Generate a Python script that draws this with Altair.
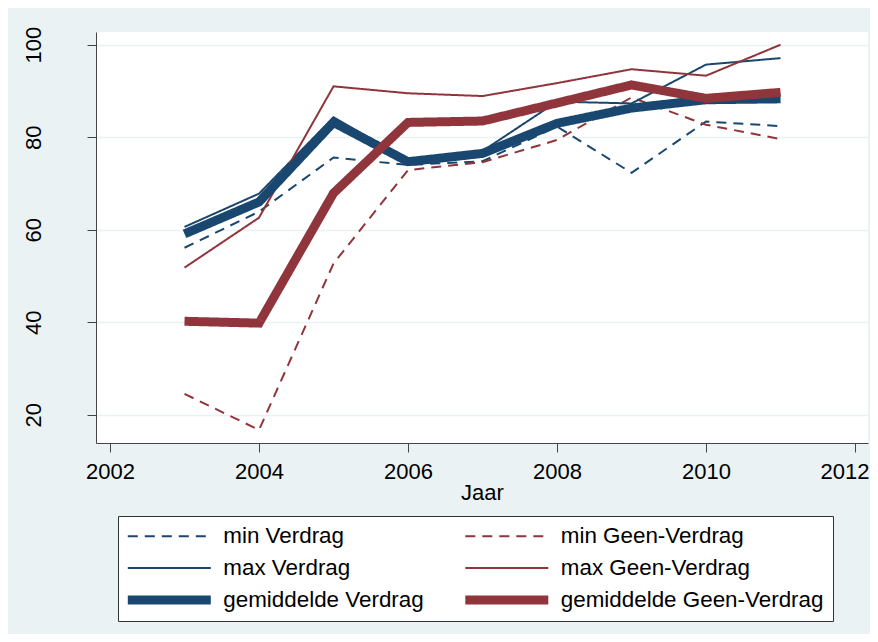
import altair as alt
import pandas as pd

years = [2003, 2004, 2005, 2006, 2007, 2008, 2009, 2010, 2011]
min_verdrag = [56.1, 63.9, 75.6, 74.0, 74.8, 82.3, 72.3, 83.4, 82.4]
min_geen = [24.5, 16.7, 52.7, 72.9, 74.6, 79.4, 88.6, 82.7, 79.6]
max_verdrag = [60.6, 67.8, 84.3, 75.0, 77.0, 87.7, 87.3, 95.7, 97.1]
max_geen = [51.8, 62.6, 91.0, 89.5, 88.9, 91.7, 94.7, 93.3, 100.0]
gem_verdrag = [59.1, 66.0, 83.2, 74.7, 76.5, 83.0, 86.3, 88.1, 88.3]
gem_geen = [40.2, 39.8, 67.9, 83.2, 83.5, 87.4, 91.3, 88.4, 89.7]

series_names = ["min Verdrag", "min Geen-Verdrag", "max Verdrag",
                "max Geen-Verdrag", "gemiddelde Verdrag", "gemiddelde Geen-Verdrag"]
series_values = [min_verdrag, min_geen, max_verdrag, max_geen, gem_verdrag, gem_geen]

x_ticks = [2002, 2004, 2006, 2008, 2010, 2012]
y_ticks = [20, 40, 60, 80, 100]

NAVY = "#1a476f"
MAROON = "#90353b"
BG = "#eaf2f3"
FONT = "Liberation Sans"

rows = []
for name, vals in zip(series_names, series_values):
    for yr, v in zip(years, vals):
        rows.append({"Jaar": yr, "waarde": v, "serie": name})
df = pd.DataFrame(rows)

color_range = [NAVY, MAROON, NAVY, MAROON, NAVY, MAROON]
dash_range = [[10, 7], [10, 7], [1, 0], [1, 0], [1, 0], [1, 0]]
width_range = [2, 2, 2, 2, 9, 9]

legend = alt.Legend(
    title=None, orient="none", legendX=22, legendY=484, columns=2,
    direction="horizontal",
    symbolType="stroke", symbolSize=6889, clipHeight=22,
    rowPadding=9, columnPadding=40.5, padding=9,
    labelFontSize=22.4, labelFont=FONT, labelColor="black", labelOffset=8,
    symbolOffset=-3.7, labelLimit=500,
    fillColor="white", strokeColor="#333333",
)

chart = alt.Chart(df).mark_line().encode(
    x=alt.X("Jaar:Q",
            scale=alt.Scale(domain=[2001.812, 2012.174], nice=False, zero=False),
            axis=alt.Axis(values=x_ticks, format="d", title="Jaar", grid=False,
                          tickSize=9, tickColor="#444444", domainColor="#444444",
                          labelFontSize=22, labelFont=FONT, labelColor="black",
                          labelBaseline="alphabetic", labelPadding=26,
                          labelFlush=13.5, labelFlushOffset=14,
                          titleFontSize=22, titleFont=FONT, titleFontWeight="normal",
                          titleColor="black", titleX=386, titleY=56,
                          titleBaseline="alphabetic", titleAlign="center")),
    y=alt.Y("waarde:Q",
            scale=alt.Scale(domain=[13.88, 102.75], nice=False, zero=False),
            axis=alt.Axis(values=y_ticks, title=None, grid=True, gridColor=BG,
                          gridWidth=1.5, tickSize=9, tickColor="#444444",
                          domainColor="#444444", labelFontSize=22, labelFont=FONT,
                          labelColor="black", labelAngle=270, labelAlign="center",
                          labelBaseline="alphabetic", labelPadding=47)),
    color=alt.Color("serie:O", scale=alt.Scale(type="ordinal", domain=series_names, range=color_range),
                    legend=legend),
    strokeDash=alt.StrokeDash("serie:O", scale=alt.Scale(type="ordinal", domain=series_names, range=dash_range),
                              legend=legend),
    strokeWidth=alt.StrokeWidth("serie:O", scale=alt.Scale(type="ordinal", domain=series_names, range=width_range),
                                legend=legend),
).properties(
    width=772, height=411,
    padding={"left": 88, "top": 24, "right": 2, "bottom": 191},
    autosize=alt.AutoSizeParams(type="none"),
    background=BG,
).configure_view(fill="white", strokeWidth=0)

chart.save("out.html", embed_options={"renderer": "svg", "actions": False})
